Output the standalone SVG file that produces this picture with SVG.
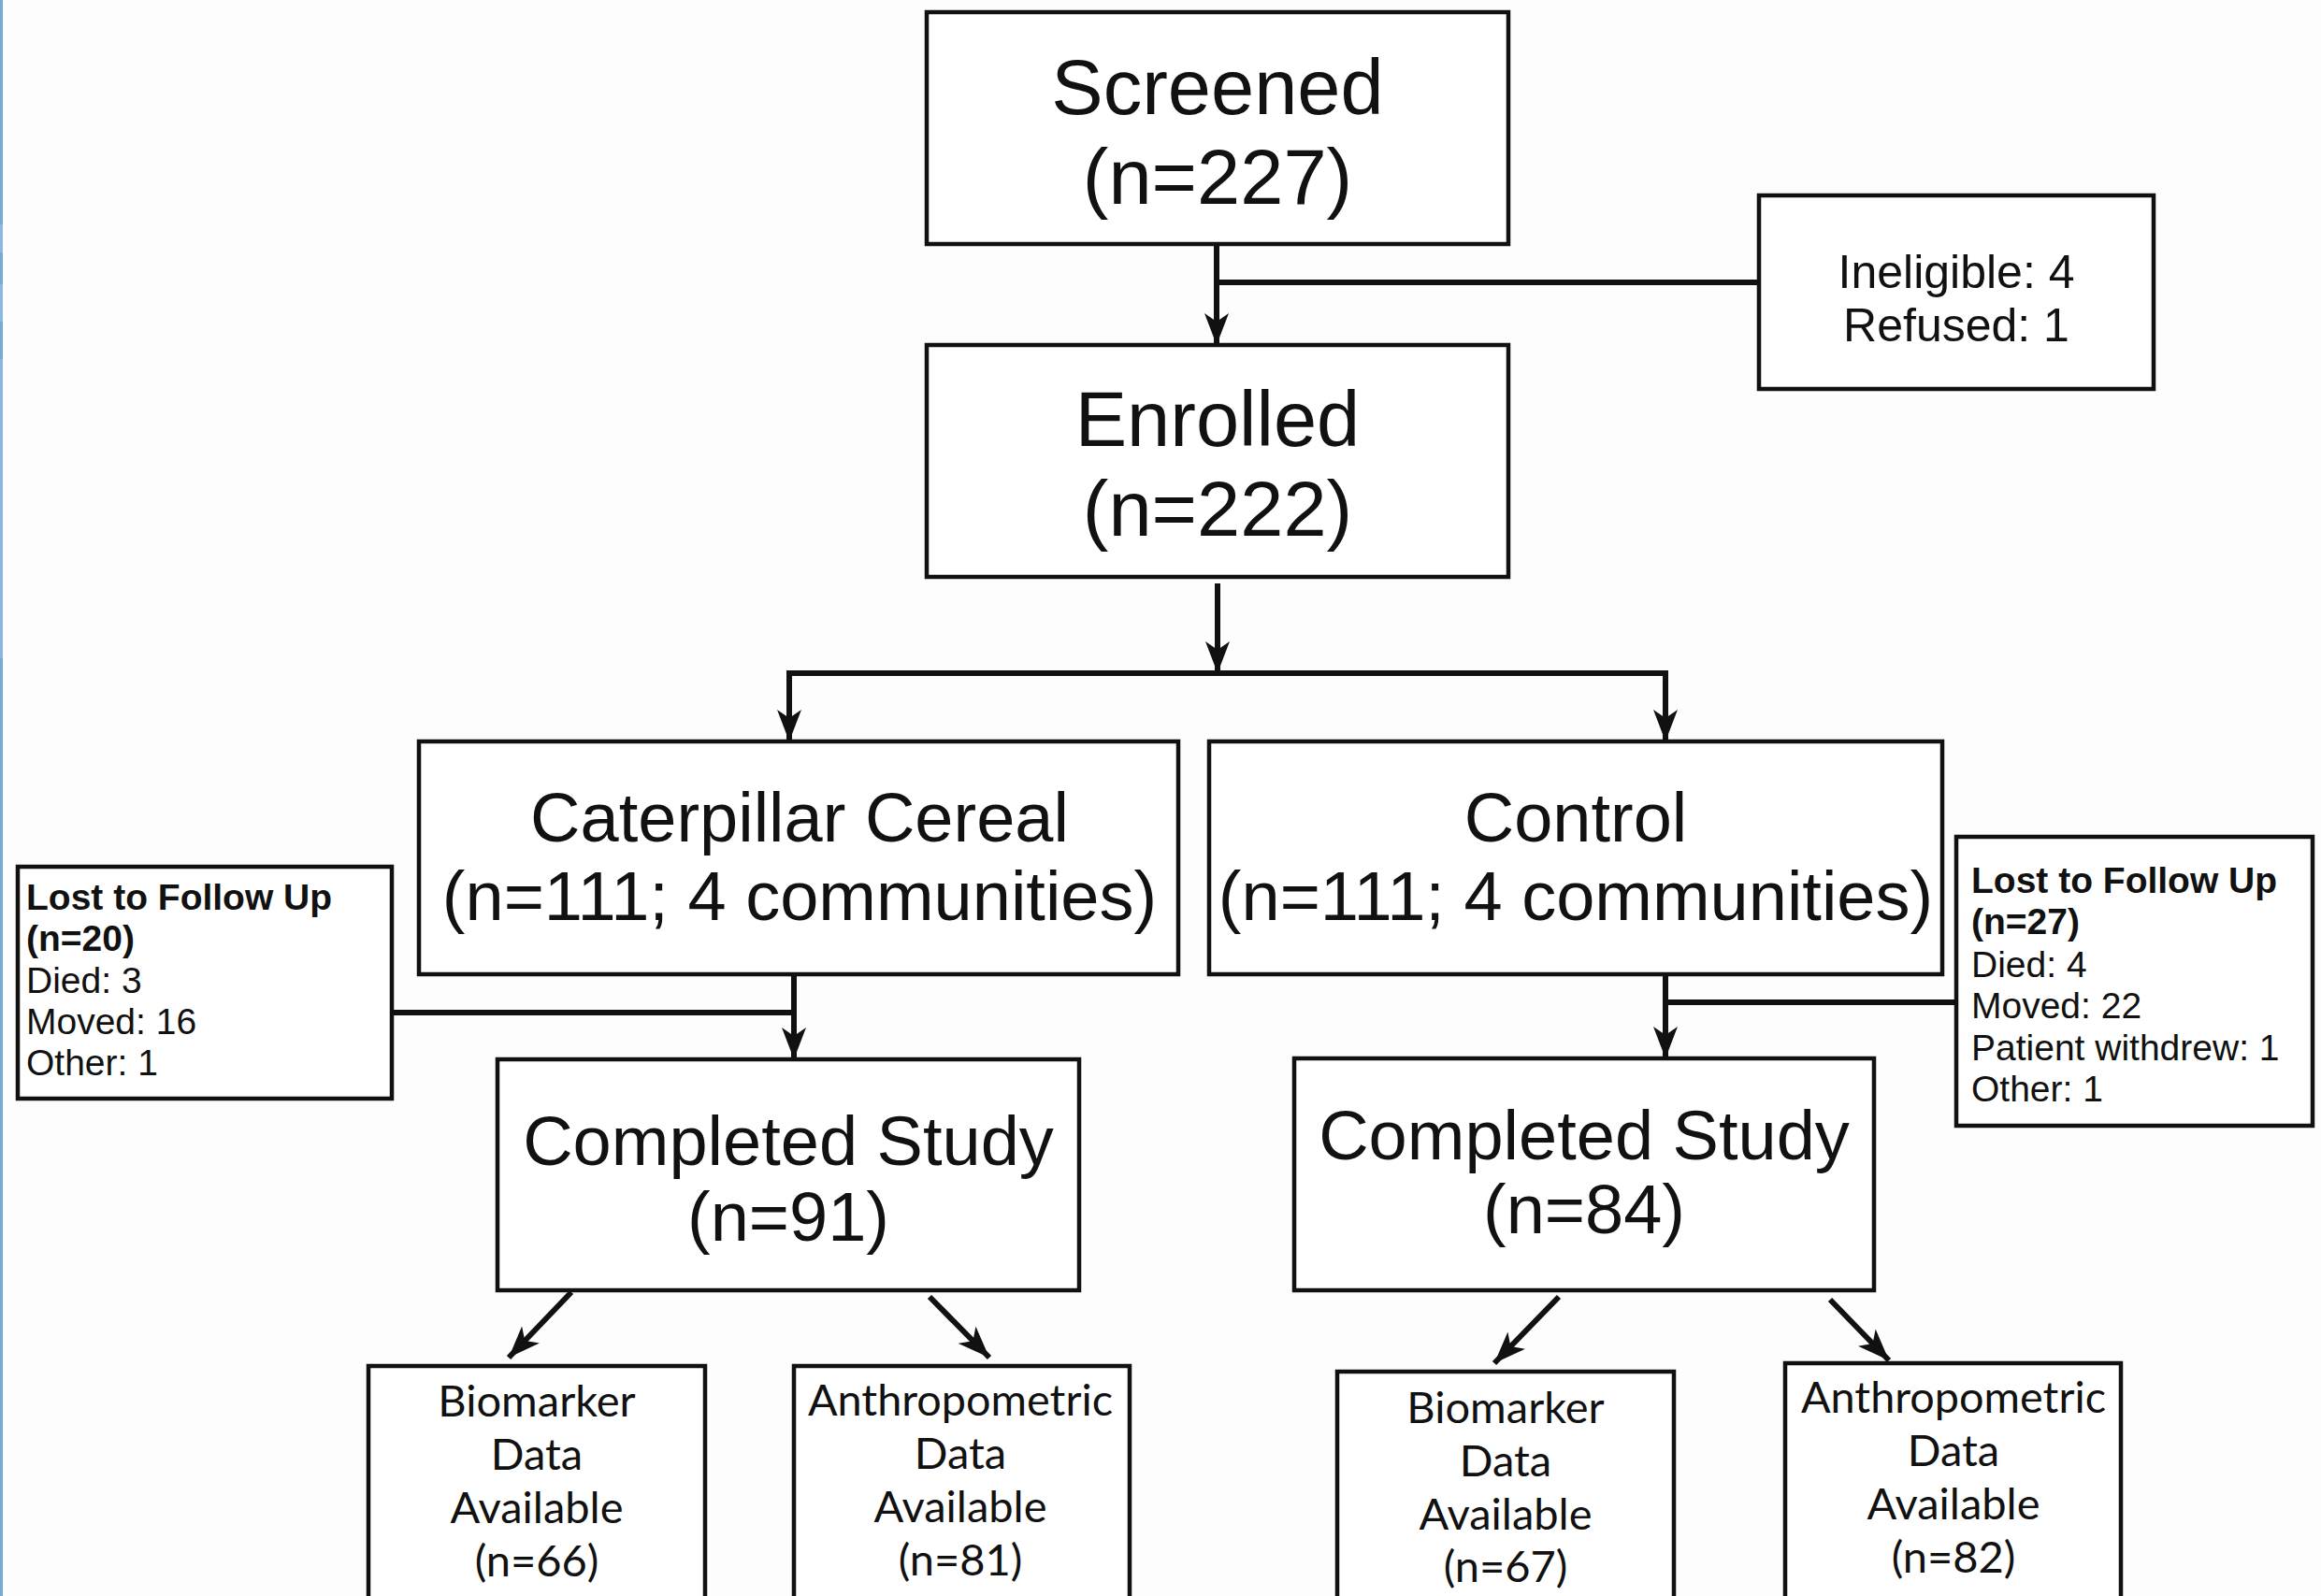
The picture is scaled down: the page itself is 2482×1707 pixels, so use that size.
<svg xmlns="http://www.w3.org/2000/svg" width="2482" height="1707" viewBox="0 0 2482 1707">
<style>
.box{fill:#fff;stroke:#111;stroke-width:4.5}
.big{font-family:"Liberation Sans",Arial,sans-serif;font-size:83px;fill:#111;text-anchor:middle}
.mid{font-family:"Liberation Sans",Arial,sans-serif;font-size:74px;fill:#111;text-anchor:middle}
.sm{font-family:"Liberation Sans",Arial,sans-serif;font-size:50px;fill:#111;text-anchor:middle}
.note{font-family:"Liberation Sans",Arial,sans-serif;font-size:39px;fill:#111}
.b{font-weight:bold}
.gill{font-family:Lato,"Open Sans",sans-serif;font-size:47px;fill:#111;text-anchor:middle}
.ln{fill:none;stroke:#111;stroke-width:6}
</style>
<defs>
<marker id="ah" viewBox="0 0 34 26" refX="34" refY="13" markerWidth="34" markerHeight="26" markerUnits="userSpaceOnUse" orient="auto">
<path d="M0,0 L34,13 L0,26 L9,13 z" fill="#111"/>
</marker>
</defs>
<rect width="2482" height="1707" fill="#fdfdfd"/>
<rect x="0" y="0" width="3" height="1707" fill="#76aad9"/>
<rect x="0" y="240" width="3" height="30" fill="#8db8e0"/>
<rect x="0" y="304" width="3" height="40" fill="#8db8e0"/>
<rect x="0" y="384" width="3" height="320" fill="#8cb6de"/>

<g id="connectors">
<path class="ln" d="M1301,261 V369" marker-end="url(#ah)"/>
<path class="ln" d="M1301,302 H1881"/>
<path class="ln" d="M1302,624 V720" marker-end="url(#ah)"/>
<path class="ln" d="M841,720 H1784"/>
<path class="ln" d="M844,717 V793" marker-end="url(#ah)"/>
<path class="ln" d="M1781,717 V793" marker-end="url(#ah)"/>
<path class="ln" d="M849,1042 V1133" marker-end="url(#ah)"/>
<path class="ln" d="M419,1083 H849"/>
<path class="ln" d="M1781,1042 V1132" marker-end="url(#ah)"/>
<path class="ln" d="M2091,1072 H1781"/>
<path class="ln" d="M611,1382 L544,1452" marker-end="url(#ah)"/>
<path class="ln" d="M994,1387 L1058,1452" marker-end="url(#ah)"/>
<path class="ln" d="M1667,1387 L1598,1458" marker-end="url(#ah)"/>
<path class="ln" d="M1957,1390 L2020,1455" marker-end="url(#ah)"/>
</g>

<g id="screened">
<rect class="box" x="991" y="13" width="622" height="248"/>
<text class="big" x="1302" y="122">Screened</text>
<text class="big" x="1302" y="218">(n=227)</text>
</g>

<g id="excluded">
<rect class="box" x="1881" y="209" width="422" height="207"/>
<text class="sm" x="2092" y="308">Ineligible: 4</text>
<text class="sm" x="2092" y="365">Refused: 1</text>
</g>

<g id="enrolled">
<rect class="box" x="991" y="369" width="622" height="248"/>
<text class="big" x="1302" y="477">Enrolled</text>
<text class="big" x="1302" y="573">(n=222)</text>
</g>

<g id="caterpillar">
<rect class="box" x="448" y="793" width="812" height="249"/>
<text class="mid" x="855" y="900">Caterpillar Cereal</text>
<text class="mid" x="855" y="984">(n=111; 4 communities)</text>
</g>

<g id="control">
<rect class="box" x="1293" y="793" width="784" height="249"/>
<text class="mid" x="1685" y="900">Control</text>
<text class="mid" x="1685" y="984">(n=111; 4 communities)</text>
</g>

<g id="lost-left">
<rect class="box" x="19" y="927" width="400" height="248"/>
<text class="note b" x="28" y="973">Lost to Follow Up</text>
<text class="note b" x="28" y="1017">(n=20)</text>
<text class="note" x="28" y="1062">Died: 3</text>
<text class="note" x="28" y="1106">Moved: 16</text>
<text class="note" x="28" y="1150">Other: 1</text>
</g>

<g id="lost-right">
<rect class="box" x="2092" y="895" width="381" height="309"/>
<text class="note b" x="2108" y="955">Lost to Follow Up</text>
<text class="note b" x="2108" y="999">(n=27)</text>
<text class="note" x="2108" y="1045">Died: 4</text>
<text class="note" x="2108" y="1089">Moved: 22</text>
<text class="note" x="2108" y="1134">Patient withdrew: 1</text>
<text class="note" x="2108" y="1178">Other: 1</text>
</g>

<g id="completed-left">
<rect class="box" x="532" y="1133" width="622" height="247"/>
<text class="mid" x="843" y="1246">Completed Study</text>
<text class="mid" x="843" y="1327">(n=91)</text>
</g>

<g id="completed-right">
<rect class="box" x="1384" y="1132" width="620" height="248"/>
<text class="mid" x="1694" y="1240">Completed Study</text>
<text class="mid" x="1694" y="1319">(n=84)</text>
</g>

<g id="bio-left">
<rect class="box" x="394" y="1461" width="360" height="260"/>
<text class="gill" x="574" y="1515">Biomarker</text>
<text class="gill" x="574" y="1572">Data</text>
<text class="gill" x="574" y="1629">Available</text>
<text class="gill" x="574" y="1686">(n=66)</text>
</g>

<g id="anthro-left">
<rect class="box" x="849" y="1461" width="359" height="260"/>
<text class="gill" x="1027" y="1514" textLength="326" lengthAdjust="spacingAndGlyphs">Anthropometric</text>
<text class="gill" x="1027" y="1571">Data</text>
<text class="gill" x="1027" y="1628">Available</text>
<text class="gill" x="1027" y="1685">(n=81)</text>
</g>

<g id="bio-right">
<rect class="box" x="1430" y="1467" width="360" height="260"/>
<text class="gill" x="1610" y="1522">Biomarker</text>
<text class="gill" x="1610" y="1579">Data</text>
<text class="gill" x="1610" y="1636">Available</text>
<text class="gill" x="1610" y="1692">(n=67)</text>
</g>

<g id="anthro-right">
<rect class="box" x="1909" y="1458" width="359" height="260"/>
<text class="gill" x="2089" y="1511" textLength="326" lengthAdjust="spacingAndGlyphs">Anthropometric</text>
<text class="gill" x="2089" y="1568">Data</text>
<text class="gill" x="2089" y="1625">Available</text>
<text class="gill" x="2089" y="1682">(n=82)</text>
</g>
</svg>
